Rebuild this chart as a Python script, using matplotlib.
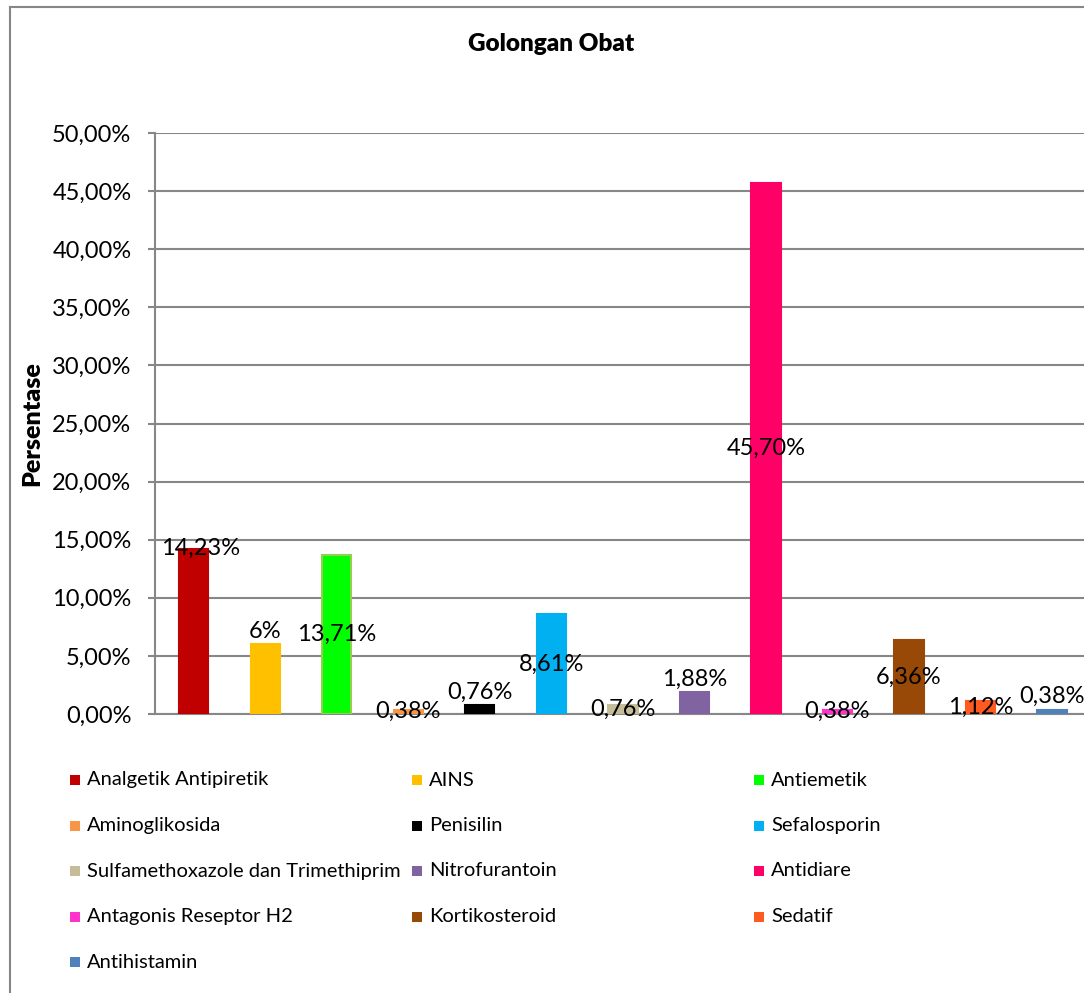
import matplotlib.pyplot as plt
from matplotlib.patches import Rectangle
from matplotlib.lines import Line2D

# data
golongan = ['Analgetik Antipiretik', 'AINS', 'Antiemetik', 'Aminoglikosida', 'Penisilin',
            'Sefalosporin', 'Sulfamethoxazole dan Trimethiprim', 'Nitrofurantoin', 'Antidiare',
            'Antagonis Reseptor H2', 'Kortikosteroid', 'Sedatif', 'Antihistamin']
persen = [14.23, 6.0, 13.71, 0.38, 0.76, 8.61, 0.76, 1.88, 45.70, 0.38, 6.36, 1.12, 0.38]
label_txt = ['14,23%', '6%', '13,71%', '0,38%', '0,76%', '8,61%', '0,76%', '1,88%', '45,70%',
             '0,38%', '6,36%', '1,12%', '0,38%']
warna = ['#C00000', '#FFC000', '#00FF00', '#F79646', '#000000', '#00B0F0', '#C4BD97',
         '#8064A2', '#FF0066', '#FF33CC', '#984807', '#FF5A1F', '#4F81BD']
# posisi label (gaya Excel)
posisi = ['end', 'above', 'center', 'center', 'above', 'center', 'center', 'above', 'center',
          'center', 'center', 'center', 'above']
yticks = [0, 5, 10, 15, 20, 25, 30, 35, 40, 45, 50]

plt.rcParams['font.family'] = ['Lato', 'DejaVu Sans']

fig = plt.figure(figsize=(10.84, 9.93), dpi=100)
ax = fig.add_axes([155 / 1084, 1 - 714 / 993, 930 / 1084, 581 / 993])

x = list(range(len(persen)))
for i in x:
    ec = '#92D050' if golongan[i] == 'Antiemetik' else warna[i]
    ax.bar(i, persen[i], width=0.41, color=warna[i], edgecolor=ec, linewidth=1.5, zorder=3)

for i in x:
    v = persen[i]
    if posisi[i] == 'above':
        ax.annotate(label_txt[i], (i, v), xytext=(0, 2), textcoords='offset points',
                    ha='center', va='bottom', fontsize=17, zorder=4)
    elif posisi[i] == 'end':
        ax.text(i + 0.1, v, label_txt[i], ha='center', va='center', fontsize=17, zorder=4)
    else:
        ax.text(i, v / 2, label_txt[i], ha='center', va='center', fontsize=17, zorder=4)

ax.set_xlim(-0.54, len(persen) - 0.54)
ax.set_ylim(0, 50)
ax.set_yticks(yticks)
ax.set_yticklabels([f'{t:.2f}'.replace('.', ',') + '%' for t in yticks], fontsize=17)
ax.set_xticks([])
ax.grid(axis='y', color='#878787', linewidth=1.5, zorder=0)
for s in ['top', 'right']:
    ax.spines[s].set_visible(False)
ax.spines['left'].set_color('#878787')
ax.spines['bottom'].set_color('#878787')
ax.spines['left'].set_linewidth(1.5)
ax.spines['bottom'].set_linewidth(1.5)
ax.tick_params(axis='y', length=5, width=1.5, color='#878787', pad=12)
ax.set_ylabel('Persentase', fontsize=18, fontweight='heavy', labelpad=6)

fig.text(551 / 1084, 1 - 44 / 993, 'Golongan Obat', ha='center', va='center',
         fontsize=17.5, fontweight='heavy')

# legenda manual, 3 kolom
for i, nama in enumerate(golongan):
    kol = i % 3
    bar_ = i // 3
    lx = (70 + kol * 342) / 1084
    ly = 1 - (780 + bar_ * 45.5) / 993
    fig.add_artist(Rectangle((lx, ly - 5 / 993), 10 / 1084, 10 / 993, transform=fig.transFigure,
                             facecolor=warna[i], edgecolor='none'))
    fig.text(lx + 17 / 1084, ly, nama, ha='left', va='center', fontsize=14.5)

# bingkai luar chart
fig.add_artist(Line2D([10 / 1084, 10 / 1084], [0, 1 - 7 / 993], transform=fig.transFigure,
                      color='#868686', linewidth=1.5))
fig.add_artist(Line2D([10 / 1084, 1], [1 - 7 / 993, 1 - 7 / 993], transform=fig.transFigure,
                      color='#868686', linewidth=1.5))

plt.savefig('out.png', dpi=100)
